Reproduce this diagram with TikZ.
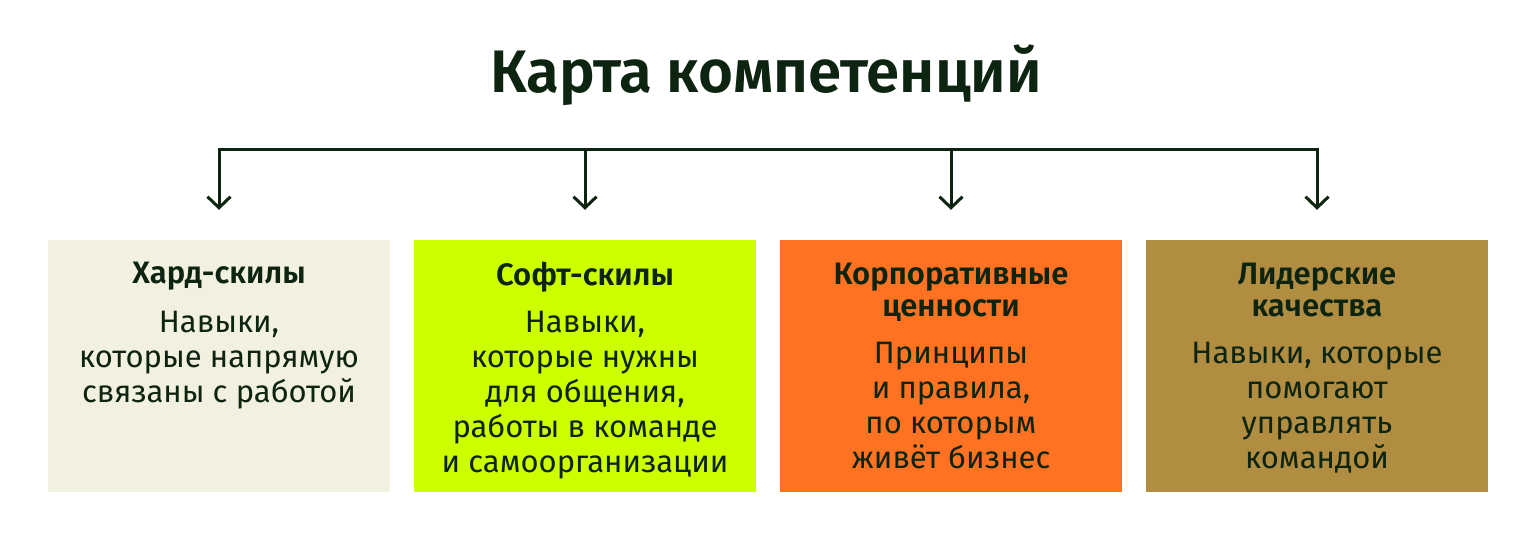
\documentclass[tikz,border=0pt]{standalone}
\usepackage{fontspec}
\setmainfont{Fira Sans}[BoldFont={Fira Sans SemiBold}]
\usetikzlibrary{arrows.meta}
\definecolor{ink}{RGB}{13,36,16}
\definecolor{cA}{RGB}{242,240,223}
\definecolor{cB}{RGB}{204,255,0}
\definecolor{cC}{RGB}{255,114,34}
\definecolor{cD}{RGB}{176,141,65}
\tikzset{
  box/.style={rectangle, draw=none, minimum width=342pt, minimum height=252pt, inner sep=0pt},
  boxtitle/.style={anchor=north, inner sep=0pt, align=center, text=ink, font=\fontsize{31}{32}\selectfont\bfseries},
  boxbody/.style={anchor=north, inner sep=0pt, align=center, text=ink, font=\fontsize{31}{35}\selectfont},
  conn/.style={draw=ink, line width=3pt},
  mybarb/.tip={Straight Barb[length=11pt,width=23pt]}
}
\begin{document}
\begin{tikzpicture}[x=1pt,y=-1pt]
\path[fill=white,use as bounding box] (0,0) rectangle (1536,540);
\node[anchor=base, inner sep=0pt, text=ink, font=\fontsize{60}{64}\selectfont\bfseries] (title) at (766,93) {Карта компетенций};

\node[box, fill=cA] (b1) at (219,366) {};
\node[box, fill=cB] (b2) at (585,366) {};
\node[box, fill=cC] (b3) at (951,366) {};
\node[box, fill=cD] (b4) at (1317,366) {};

\coordinate (h1) at (219,150);
\coordinate (h2) at (585,150);
\coordinate (h3) at (951,150);
\coordinate (h4) at (1317,150);
\coordinate (e1) at ([yshift=30pt]b1.north);
\coordinate (e2) at ([yshift=30pt]b2.north);
\coordinate (e3) at ([yshift=30pt]b3.north);
\coordinate (e4) at ([yshift=30pt]b4.north);
\draw[conn, mybarb-mybarb] (e1) -- (h1) -- (h4) -- (e4);
\draw[conn, -mybarb] (h2) -- (e2);
\draw[conn, -mybarb] (h3) -- (e3);

\node[boxtitle] (t1) at (219,262) {Хард-скилы};
\node[boxbody] (d1) at (219,311) {Навыки,\\которые напрямую\\связаны с работой};

\node[boxtitle] (t2) at (585,262) {Софт-скилы};
\node[boxbody] (d2) at (585,311) {Навыки,\\которые нужны\\для общения,\\работы в команде\\и самоорганизации};

\node[boxtitle] (t3) at (951,263) {Корпоративные\\ценности};
\node[boxbody] (d3) at (951,342) {Принципы\\и правила,\\по которым\\живёт бизнес};

\node[boxtitle] (t4) at (1317,263) {Лидерские\\качества};
\node[boxbody] (d4) at (1317,342) {Навыки, которые\\помогают\\управлять\\командой};
\end{tikzpicture}
\end{document}
